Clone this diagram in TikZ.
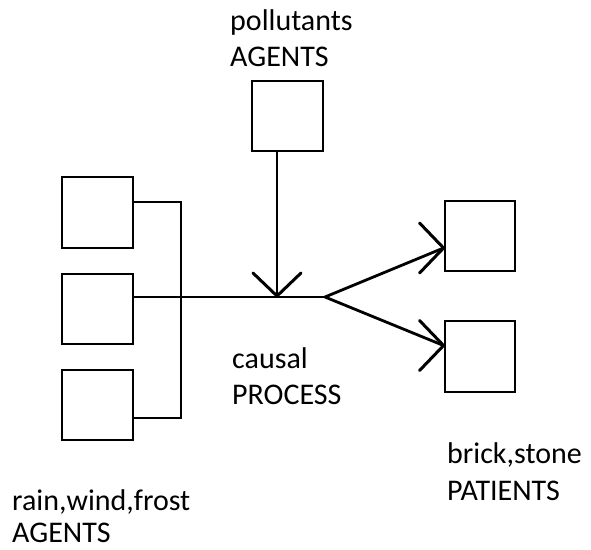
\documentclass[tikz,border=0pt]{standalone}
\usepackage{fontspec}
\setmainfont{Carlito}
\usetikzlibrary{calc}
\begin{document}
\begin{tikzpicture}[x=1pt,y=-1pt,
  box/.style={draw,line width=2.4pt,minimum width=70.5pt,minimum height=70.5pt,inner sep=0pt},
  wire/.style={line width=2.4pt},
  shaft/.style={line width=2.8pt},
  barb/.style={line width=3pt,line cap=round,line join=round},
  lbl/.style={anchor=base west,inner sep=0pt,text depth=0pt,font=\fontsize{30}{35}\selectfont}]
\useasboundingbox (0,0) rectangle (591,549);

% agent, process and patient boxes
\node[box] (L1) at (97.5,212.5) {};
\node[box] (L2) at (97.5,309) {};
\node[box] (L3) at (97.5,405) {};
\node[box] (T)  at (287.5,116) {};
\node[box] (RA) at (480,236) {};
\node[box] (RB) at (480,356.5) {};

% junction points
\coordinate (jt) at (181,202);
\coordinate (jb) at (181,418);
\coordinate (split) at (325,297);
\coordinate (tipD) at (277,296);
\coordinate (tipA) at ($(RA.west)+(0,12)$);
\coordinate (tipB) at ($(RB.west)+(0,-11)$);

% bracket joining the left agents
\draw[wire] (L1.east |- jt) -- (jt) -- (jb) -- (L3.east |- jb);
\draw[wire] (L2.east |- split) -- (split);

% pollutants feeding down into the process
\draw[wire] (T.south -| tipD) -- (tipD);
\draw[barb] ($(tipD)+(-24,-23)$) -- (tipD) -- ($(tipD)+(24,-23)$);

% process branching to the patients
\draw[shaft] (split) -- (tipA);
\draw[shaft] (split) -- (tipB);
\draw[barb] ($(tipA)+(-24,-25)$) -- (tipA) -- ($(tipA)+(-24,25)$);
\draw[barb] ($(tipB)+(-24,-25)$) -- (tipB) -- ($(tipB)+(-24,25)$);

% labels
\node[lbl] (t1) at (230,30) {pollutants};
\node[lbl] (t2) at (230,66) {AGENTS};
\node[lbl] (t3) at (232,368) {causal};
\node[lbl] (t4) at (232,404) {PROCESS};
\node[lbl] (t5) at (447,463) {brick,stone};
\node[lbl] (t6) at (447,500) {PATIENTS};
\node[lbl] (t7) at (12,510) {rain,wind,frost};
\node[lbl] (t8) at (12,542) {AGENTS};
\end{tikzpicture}
\end{document}
